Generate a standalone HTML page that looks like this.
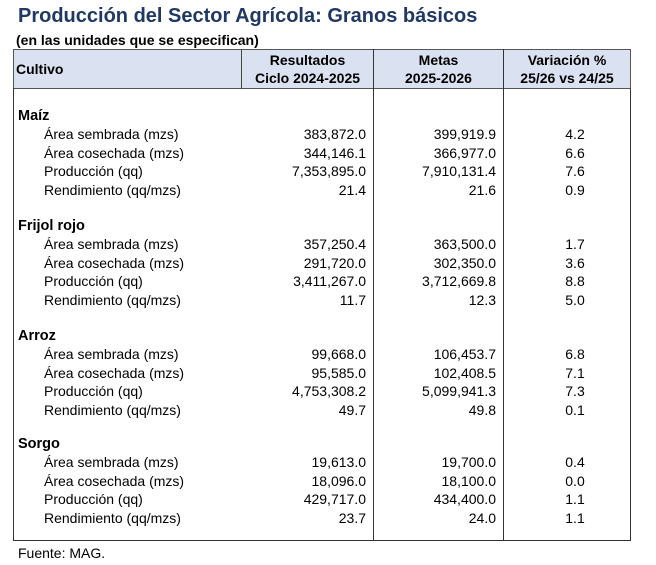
<!DOCTYPE html>
<html><head><meta charset="utf-8"><style>
body{margin:0;width:656px;height:565px;background:#fff;font-family:"Liberation Sans",Arial,sans-serif;position:relative;overflow:hidden}
div{position:absolute;white-space:nowrap}
.t{left:18px;top:5px;font-size:20px;font-weight:bold;color:#1f3864}
.s{left:16px;top:32px;font-size:14px;font-weight:bold}
.h{font-size:14px;font-weight:bold;text-align:center;line-height:18px}
.r{font-size:14px;line-height:19px}
.n{text-align:right}
.g{font-weight:bold;font-size:14.5px}
</style></head><body>
<div class="t">Producción del Sector Agrícola: Granos básicos</div>
<div class="s">(en las unidades que se especifican)</div>
<div style="left:13px;top:49px;width:616px;height:38px;background:#dae1f1;border:1.5px solid #555"></div>
<div style="left:13px;top:88px;width:616px;height:452px;border:1.5px solid #333;border-top:none"></div>
<div style="left:241px;top:49px;width:1px;height:40px;background:#444"></div>
<div style="left:373px;top:49px;width:1px;height:492px;background:#333"></div>
<div style="left:503px;top:49px;width:1px;height:492px;background:#333"></div>
<div class="h" style="left:16px;top:60px">Cultivo</div>
<div class="h" style="left:242px;top:51px;width:131px">Resultados<br>Ciclo 2024-2025</div>
<div class="h" style="left:374px;top:51px;width:129px">Metas<br>2025-2026</div>
<div class="h" style="left:504px;top:51px;width:126px">Variación %<br>25/26 vs 24/25</div>
<div id="b"></div>
<script>
var G=[["Maíz",107,[["383,872.0","399,919.9","4.2"],["344,146.1","366,977.0","6.6"],["7,353,895.0","7,910,131.4","7.6"],["21.4","21.6","0.9"]]],
["Frijol rojo",217,[["357,250.4","363,500.0","1.7"],["291,720.0","302,350.0","3.6"],["3,411,267.0","3,712,669.8","8.8"],["11.7","12.3","5.0"]]],
["Arroz",327,[["99,668.0","106,453.7","6.8"],["95,585.0","102,408.5","7.1"],["4,753,308.2","5,099,941.3","7.3"],["49.7","49.8","0.1"]]],
["Sorgo",435,[["19,613.0","19,700.0","0.4"],["18,096.0","18,100.0","0.0"],["429,717.0","434,400.0","1.1"],["23.7","24.0","1.1"]]]];
var L=["Área sembrada (mzs)","Área cosechada (mzs)","Producción (qq)","Rendimiento (qq/mzs)"];
var h="";
G.forEach(function(g){h+='<div class="r g" style="left:18px;top:'+g[1]+'px">'+g[0]+'</div>';
g[2].forEach(function(v,i){var y=g[1]+18+i*18.7;
h+='<div class="r" style="left:44px;top:'+y+'px">'+L[i]+'</div>';
h+='<div class="r n" style="right:290px;top:'+y+'px">'+v[0]+'</div>';
h+='<div class="r n" style="right:160px;top:'+y+'px">'+v[1]+'</div>';
h+='<div class="r" style="left:555px;width:40px;text-align:center;top:'+y+'px">'+v[2]+'</div>';});});
document.getElementById("b").outerHTML=h;
</script>
<div class="r" style="left:18px;top:544px">Fuente: MAG.</div>
</body></html>
